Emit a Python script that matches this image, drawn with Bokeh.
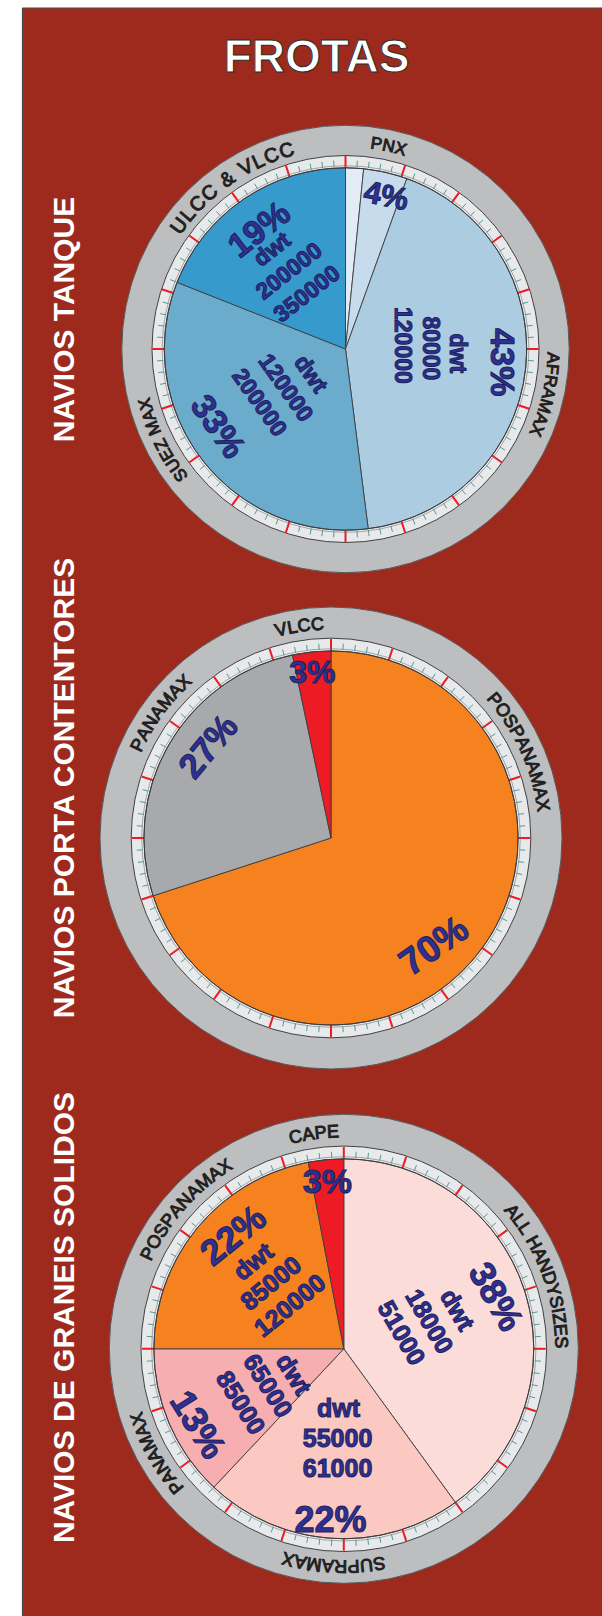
import numpy as np
from bokeh.plotting import figure
from bokeh.models import Range1d, ColumnDataSource
from bokeh.core.properties import value
from bokeh.embed import file_html
from bokeh.resources import INLINE

W, H = 602, 1616

# ---------------- data ----------------
title = "FROTAS"
section_titles = ["NAVIOS TANQUE", "NAVIOS PORTA CONTENTORES", "NAVIOS DE GRANEIS SOLIDOS"]

tank_cats = ["", "PNX", "AFRAMAX", "SUEZ MAX", "ULCC & VLCC"]
tank_share = [1.6, 3.9, 42.5, 33.0, 19.0]
tank_pct = ["", "4%", "43%", "33%", "19%"]
tank_dwt_lo = ["", "", "80000", "120000", "200000"]
tank_dwt_hi = ["", "", "120000", "200000", "350000"]

cont_cats = ["POSPANAMAX", "PANAMAX", "VLCC"]
cont_share = [70.0, 26.7, 3.3]
cont_pct = ["70%", "27%", "3%"]
cont_dwt_lo = ["", "", ""]
cont_dwt_hi = ["", "", ""]

bulk_cats = ["ALL HANDYSIZES", "SUPRAMAX", "PANAMAX", "POSPANAMAX", "CAPE"]
bulk_share = [40.0, 22.0, 13.0, 22.0, 3.0]
bulk_pct = ["38%", "22%", "13%", "22%", "3%"]
bulk_dwt_lo = ["18000", "55000", "65000", "85000", ""]
bulk_dwt_hi = ["51000", "61000", "85000", "120000", ""]

# ---------------- layout / style ----------------
gauges = [
    dict(cx=345.0, cy=348.5, R=223.7, cats=tank_cats, share=tank_share, pct=tank_pct,
         lo=tank_dwt_lo, hi=tank_dwt_hi,
         colors=["#e1ecf6", "#c6dcec", "#abcce1", "#6babcb", "#369bcc"],
         ring_angles=[None, 12.0, 102.7, 243.6, 325.0], ring_sizes=[17, 17, 17, 17, 20],
         ring_track=[0, 0.6, 0.6, 0.6, 1.6],
         psize=34, dsize=23,
         blocks=[None,
                 dict(dth=2.1, f=0.876, rot=-12, first=True, off=[(0, 0)], ps=31),
                 dict(dth=-4.5, f=0.594, rot=-90, first=True, off=[(-50, 10), (-5, 1), (22, -4), (50, -7)]),
                 dict(dth=5.5, f=0.526, rot=-55, first=False, off=[(-53, 5), (-25, 2), (5, -1), (53, -5)]),
                 dict(dth=-1.4, f=0.598, rot=38, first=True, off=[(-40, 1), (-16, -1), (11, -1), (40, -1)])]),
    dict(cx=330.5, cy=837.5, R=231.0, cats=cont_cats, share=cont_share, pct=cont_pct,
         lo=cont_dwt_lo, hi=cont_dwt_hi,
         colors=["#f5821f", "#a7a9ac", "#ed1c24"],
         ring_angles=[65.5, 306.2, 351.5], ring_sizes=[18, 18, 18], ring_track=[0.4, 0.4, 0.4],
         psize=35, dsize=24,
         blocks=[dict(dth=10.3, f=0.795, rot=35, first=True, off=[(0, 0)], ps=37),
                 dict(dth=6.7, f=0.823, rot=50, first=True, off=[(0, 0)], ps=35),
                 dict(dth=-0.5, f=0.891, rot=0, first=True, off=[(0, 0)], ps=32)]),
    dict(cx=343.3, cy=1348.3, R=234.5, cats=bulk_cats, share=bulk_share, pct=bulk_pct,
         lo=bulk_dwt_lo, hi=bulk_dwt_hi,
         colors=["#fbdcd9", "#fcc8c2", "#f6aeb1", "#f5821f", "#ed1c24"],
         ring_angles=[69.5, 182.7, 240.9, 311.4, 352.1], ring_sizes=[18, 18, 18, 18, 18],
         ring_track=[0.2, 0.4, 0.4, 0.4, 0.4],
         psize=36, dsize=25,
         blocks=[dict(dth=0.0, f=0.583, rot=-60, first=True, off=[(-50, 8), (-10, 0), (20, -4), (50, -8)]),
                 dict(dth=1.0, f=0.606, rot=0, first=False, off=[(-56, 4), (-26, 3), (4, 3), (56, -4)]),
                 dict(dth=-3.9, f=0.578, rot=-58, first=False, off=[(-54, 4), (-26, 0), (6, 0), (54, -4)]),
                 dict(dth=4.1, f=0.601, rot=39, first=True, off=[(-45, 0), (-12, -1), (16, -1), (45, 0)]),
                 dict(dth=-0.2, f=0.89, rot=0, first=True, off=[(0, 0)], ps=34)]),
]
section_pos = [(63, 319, 30), (63, 787, 30), (63, 1317, 30)]

BG_RED = "#9e2a1e"
NAVY = "#2e3192"
ARIAL = {'A': .667, 'B': .667, 'C': .722, 'D': .722, 'E': .667, 'F': .611, 'G': .778, 'H': .722,
         'I': .278, 'J': .5, 'K': .667, 'L': .556, 'M': .833, 'N': .722, 'O': .778, 'P': .667,
         'Q': .778, 'R': .722, 'S': .667, 'T': .611, 'U': .722, 'V': .667, 'W': .944, 'X': .667,
         'Y': .667, 'Z': .611, ' ': .278, '&': .667}

p = figure(width=W, height=H, x_range=Range1d(0, W), y_range=Range1d(0, H),
           x_axis_type=None, y_axis_type=None, toolbar_location=None,
           output_backend="svg", min_border=0, outline_line_color=None,
           background_fill_color="white", border_fill_color="white")
p.grid.grid_line_color = None

# background panel
p.quad(left=[22], right=[W + 5], top=[H - 7.5], bottom=[-5], fill_color=BG_RED,
       line_color="#4a4a4a", line_width=1.2)

ring_x, ring_y, ring_t, ring_a, ring_s = [], [], [], [], []
lab = dict(x=[], y=[], text=[], size=[], angle=[])

for g in gauges:
    cx, cy, R = g["cx"], H - g["cy"], g["R"]
    rp = 0.81 * R
    rb = 0.865 * R
    # outer gray ring and dial band
    p.circle(x=[cx], y=[cy], radius=R, fill_color="#bcbec0", line_color="#58595b", line_width=1)
    p.circle(x=[cx], y=[cy], radius=rb, fill_color="#e8e9ea", line_color="#414042", line_width=1)
    # ticks
    k = np.arange(100)
    th = np.radians(k * 3.6)
    major = (k % 5 == 0)
    r0 = np.where(major, rp, rp + 1.5)
    r1 = np.where(major, rp + 12, rp + 7.5)
    for m, col, lw in [(~major, "#4f9d92", 1.0), (major, "#ed1c24", 2.0)]:
        p.segment(x0=cx + r0[m] * np.sin(th[m]), y0=cy + r0[m] * np.cos(th[m]),
                  x1=cx + r1[m] * np.sin(th[m]), y1=cy + r1[m] * np.cos(th[m]),
                  line_color=col, line_width=lw)
    # wedges (clockwise from top)
    share = np.array(g["share"], dtype=float)
    cum = np.concatenate([[0], np.cumsum(share)]) / share.sum() * 360.0
    src = ColumnDataSource(dict(start=np.radians(90 - cum[1:]), end=np.radians(90 - cum[:-1]),
                                color=g["colors"], cat=g["cats"]))
    p.wedge(x=cx, y=cy, radius=rp, start_angle="start", end_angle="end", direction="anticlock",
            fill_color="color", line_color="#3d3d3f", line_width=0.9, source=src)
    p.circle(x=[cx], y=[cy], radius=rp + 2.2, fill_color=None, line_color="#6d6e71",
             line_width=0.7, line_alpha=0.8)
    p.circle(x=[cx], y=[cy], radius=rp, fill_color=None, line_color="#3d3d3f", line_width=1)

    # curved category labels on the ring
    rr = 0.928 * R
    for cat, ang, size, tr in zip(g["cats"], g["ring_angles"], g["ring_sizes"], g["ring_track"]):
        if not cat or ang is None:
            continue
        ws = [ARIAL.get(ch, .667) * size for ch in cat]
        total = sum(ws) + tr * (len(ws) - 1)
        s = -total / 2
        for ch, w in zip(cat, ws):
            mid = s + w / 2
            t = np.radians(ang) + mid / rr
            if ch != " ":
                ring_x.append(cx + rr * np.sin(t))
                ring_y.append(cy + rr * np.cos(t))
                ring_t.append(ch)
                ring_a.append(-t)
                ring_s.append("%dpx" % size)
            s += w + tr

    # percentage / dwt labels
    for i, b in enumerate(g["blocks"]):
        if b is None:
            continue
        mid = (cum[i] + cum[i + 1]) / 2
        t = np.radians(mid + b["dth"])
        ax = cx + b["f"] * rp * np.sin(t)
        ay = cy + b["f"] * rp * np.cos(t)
        a = np.radians(b["rot"])
        psz = b.get("ps", g["psize"])
        pct, lo, hi = g["pct"][i], g["lo"][i], g["hi"][i]
        if lo:
            det = [("dwt", g["dsize"]), (lo, g["dsize"]), (hi, g["dsize"])]
            lines = [(pct, psz)] + det if b["first"] else det + [(pct, psz)]
        else:
            lines = [(pct, psz)]
        for (txt, sz), (od, ou) in zip(lines, b["off"]):
            lab["x"].append(ax + od * np.sin(a) + ou * np.cos(a))
            lab["y"].append(ay - od * np.cos(a) + ou * np.sin(a))
            lab["text"].append(txt)
            lab["size"].append("%dpx" % sz)
            lab["angle"].append(a)

p.text(x="x", y="y", text="text", angle="angle", text_font_size="size",
       source=ColumnDataSource(dict(x=ring_x, y=ring_y, text=ring_t, angle=ring_a, size=ring_s)),
       text_font=value("Liberation Sans"), text_color="#231f20", text_outline_color="#231f20",
       text_align="center", text_baseline="middle")

p.text(x="x", y="y", text="text", angle="angle", text_font_size="size",
       source=ColumnDataSource(lab), text_font=value("Liberation Sans"), text_font_style="bold",
       text_color=NAVY, text_outline_color="#1e1f5c",
       text_align="center", text_baseline="middle")

# title and section titles
p.text(x=[316], y=[H - 55.5], text=[title], text_font=value("Liberation Sans"),
       text_font_style="bold", text_font_size="46px", text_color="white",
       text_outline_color="#2b2b2b", text_align="center", text_baseline="middle")
for (sx, sy, fs), s in zip(section_pos, section_titles):
    p.text(x=[sx], y=[H - sy], text=[s], angle=np.pi / 2, text_font=value("Liberation Sans"),
           text_font_style="bold", text_font_size="%dpx" % fs, text_color="white",
           text_align="center", text_baseline="middle")

open("out.html", "w").write(file_html(p, INLINE))
